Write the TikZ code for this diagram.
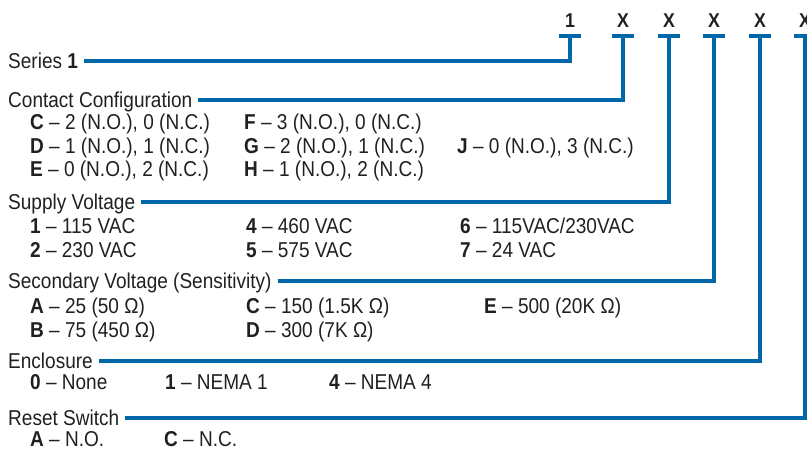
\documentclass[tikz,border=0pt]{standalone}
\usepackage{fontspec}
\setmainfont{Liberation Sans}[FakeStretch=0.885]
\usepackage{tikz}

\definecolor{leadblue}{RGB}{0,103,168}
\definecolor{inkgray}{RGB}{35,31,32}

\tikzset{
  lead/.style={draw=leadblue, line width=4.2pt},
  head/.style={anchor=west, inner xsep=6pt, inner ysep=0pt, text height=15.6pt, text depth=0pt},
  item/.style={anchor=west, inner sep=0pt, text height=15.6pt, text depth=0pt},
  digit/.style={inner sep=0pt, text height=14.3pt, text depth=0pt, font=\fontsize{20}{24}\selectfont\bfseries}
}

\begin{document}
\begin{tikzpicture}[x=1pt, y=-1pt, text=inkgray, font=\fontsize{21.5}{26}\selectfont]
\useasboundingbox (0,0) rectangle (807,454);

% model number positions and their tees
\foreach \name/\x/\txt in {d1/570/1, d2/623/X, d3/669/X, d4/714/X, d5/760/X, d6/805/X}{
  \node[digit] (\name) at (\x,20) {\txt};
  \coordinate (\name-t) at (\x,36);
  \draw[lead] ([xshift=-11pt]\name-t) -- ([xshift=11pt]\name-t);
};

% headings
\node[head] (series) at (2,61) {Series \textbf{1}};
\node[head] (contact) at (2,100) {Contact Configuration};
\node[head] (supply) at (2,202) {Supply Voltage};
\node[head] (second) at (2,281) {Secondary Voltage (Sensitivity)};
\node[head] (encl) at (2,361) {Enclosure};
\node[head] (reset) at (2,418) {Reset Switch};

% leads
\draw[lead] (series.east) -| (d1-t);
\draw[lead] (contact.east) -| (d2-t);
\draw[lead] (supply.east) -| (d3-t);
\draw[lead] (second.east) -| (d4-t);
\draw[lead] (encl.east) -| (d5-t);
\draw[lead] (reset.east) -| (d6-t);

% contact configuration
\node[item] (cfgC) at (30,122) {\textbf{C} -- 2 (N.O.), 0 (N.C.)};
\node[item] (cfgD) at (30,146) {\textbf{D} -- 1 (N.O.), 1 (N.C.)};
\node[item] (cfgE) at (30,169) {\textbf{E} -- 0 (N.O.), 2 (N.C.)};
\node[item] (cfgF) at (244,122) {\textbf{F} -- 3 (N.O.), 0 (N.C.)};
\node[item] (cfgG) at (244,146) {\textbf{G} -- 2 (N.O.), 1 (N.C.)};
\node[item] (cfgH) at (244,169) {\textbf{H} -- 1 (N.O.), 2 (N.C.)};
\node[item] (cfgJ) at (457,146) {\textbf{J} -- 0 (N.O.), 3 (N.C.)};

% supply voltage
\node[item] (sup1) at (30,226) {\textbf{1} -- 115 VAC};
\node[item] (sup2) at (30,250) {\textbf{2} -- 230 VAC};
\node[item] (sup4) at (246,226) {\textbf{4} -- 460 VAC};
\node[item] (sup5) at (246,250) {\textbf{5} -- 575 VAC};
\node[item] (sup6) at (460,226) {\textbf{6} -- 115VAC/230VAC};
\node[item] (sup7) at (460,250) {\textbf{7} -- 24 VAC};

% secondary voltage
\node[item] (secA) at (30,306) {\textbf{A} -- 25 (50 Ω)};
\node[item] (secB) at (30,330) {\textbf{B} -- 75 (450 Ω)};
\node[item] (secC) at (246,306) {\textbf{C} -- 150 (1.5K Ω)};
\node[item] (secD) at (246,330) {\textbf{D} -- 300 (7K Ω)};
\node[item] (secE) at (484,306) {\textbf{E} -- 500 (20K Ω)};

% enclosure
\node[item] (enc0) at (30,382) {\textbf{0} -- None};
\node[item] (enc1) at (165,382) {\textbf{1} -- NEMA 1};
\node[item] (enc4) at (329,382) {\textbf{4} -- NEMA 4};

% reset switch
\node[item] (rstA) at (30,439) {\textbf{A} -- N.O.};
\node[item] (rstC) at (164,439) {\textbf{C} -- N.C.};

\end{tikzpicture}
\end{document}
